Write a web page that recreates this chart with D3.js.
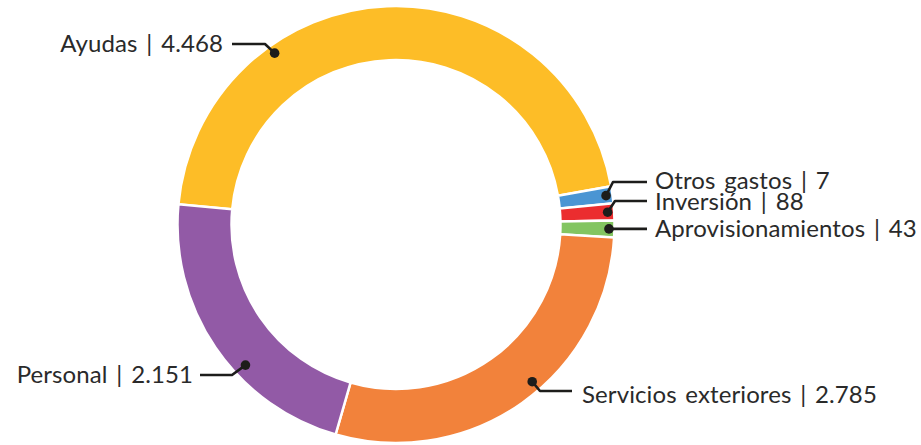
<!DOCTYPE html>
<html>
<head>
<meta charset="utf-8">
<script src="https://cdn.jsdelivr.net/npm/d3@7"></script>
<style>
  html, body { margin: 0; padding: 0; background: #fff; }
  svg { display: block; }
  text { font-family: Lato, "Open Sans", sans-serif; fill: #2a2a2a; font-weight: 400; }
</style>
</head>
<body>
<svg id="chart" width="921" height="445"></svg>
<script>
// ---- data ----
const categories = ["Ayudas", "Otros gastos", "Inversión", "Aprovisionamientos", "Servicios exteriores", "Personal"];
const values = [4468, 7, 88, 43, 2785, 2151];
const valueLabels = ["4.468", "7", "88", "43", "2.785", "2.151"];
const colors = ["#FDBD27", "#4A95D3", "#EB2D2F", "#83C561", "#F2823B", "#925AA6"];

// ---- layout (label placement) ----
const labelLayout = [
  { frac: 0.30, r: 210, elbow: [265, 44], end: 232, tx: 223, ty: 52, anchor: "end" },
  { frac: 0.50, r: 212, elbow: [613, 182], end: 647, tx: 655, ty: 188.5, anchor: "start" },
  { frac: 0.50, r: 212, elbow: [615, 201], end: 647, tx: 655, ty: 210, anchor: "start" },
  { frac: 0.50, r: 213, elbow: null, end: 647, tx: 655, ty: 237, anchor: "start" },
  { frac: 0.445, r: 208, elbow: [540, 391], end: 572, tx: 582, ty: 403, anchor: "start" },
  { frac: 0.39, r: 206, elbow: [232, 375], end: 200, tx: 193, ty: 383, anchor: "end" }
];

const W = 921, H = 445;
const cx = 396, cy = 224.5, outerR = 218.5, innerR = 164.5;
const startDeg = -84.7;
const minAngle = 4.5 * Math.PI / 180;

const svg = d3.select("#chart");
const g = svg.append("g").attr("transform", `translate(${cx},${cy})`);

const data = categories.map((c, i) => ({ name: c, value: values[i], label: valueLabels[i], color: colors[i], lay: labelLayout[i] }));

const start = startDeg * Math.PI / 180;
let arcs = d3.pie().sort(null).value(d => d.value).startAngle(start).endAngle(start + 2 * Math.PI)(data);

// enforce a minimum slice angle (like a chart library's minAngle option)
const small = arcs.filter(a => a.endAngle - a.startAngle < minAngle);
const bigSum = d3.sum(arcs.filter(a => a.endAngle - a.startAngle >= minAngle), a => a.value);
const avail = 2 * Math.PI - small.length * minAngle;
let cur = start;
arcs.forEach(a => {
  const span = (a.endAngle - a.startAngle < minAngle) ? minAngle : a.value / bigSum * avail;
  a.startAngle = cur; a.endAngle = cur + span; cur += span;
});

const arc = d3.arc().innerRadius(innerR).outerRadius(outerR);

g.selectAll("path.slice").data(arcs).join("path")
  .attr("class", "slice")
  .attr("d", arc)
  .attr("fill", d => d.data.color)
  .attr("stroke", "#fff")
  .attr("stroke-width", 2.5)
  .attr("stroke-linejoin", "miter");

// labels
arcs.forEach(a => {
  const L = a.data.lay;
  const ang = a.startAngle + L.frac * (a.endAngle - a.startAngle);
  const px = cx + Math.sin(ang) * L.r, py = cy - Math.cos(ang) * L.r;
  const lineY = L.elbow ? L.elbow[1] : py;
  const pts = [[px, py]];
  if (L.elbow) pts.push(L.elbow);
  pts.push([L.end, lineY]);
  svg.append("path")
    .attr("d", d3.line()(pts))
    .attr("fill", "none")
    .attr("stroke", "#1d1d1b")
    .attr("stroke-width", 2.6)
    .attr("stroke-linejoin", "round");
  svg.append("circle").attr("cx", px).attr("cy", py).attr("r", 4.8).attr("fill", "#1d1d1b");
  svg.append("text")
    .attr("x", L.tx).attr("y", L.ty)
    .attr("text-anchor", L.anchor)
    .attr("font-size", 24)
    .attr("word-spacing", 2.5)
    .attr("letter-spacing", 0.1)
    .text(`${a.data.name} | ${a.data.label}`);
});
</script>
</body>
</html>
